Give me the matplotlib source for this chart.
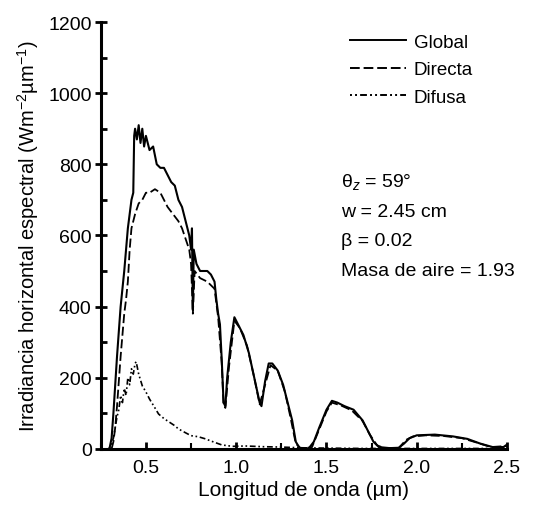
import matplotlib
matplotlib.use("Agg")
import matplotlib.pyplot as plt
from matplotlib.ticker import MultipleLocator, FixedLocator
from matplotlib.lines import Line2D

plt.rcParams['font.family'] = ['Liberation Sans', 'DejaVu Sans']
plt.rcParams['mathtext.fontset'] = 'custom'
plt.rcParams['mathtext.rm'] = 'Liberation Sans'
plt.rcParams['mathtext.it'] = 'Liberation Sans:italic'

# ---- data ----
global_wl = [0.295, 0.30, 0.31, 0.32, 0.33, 0.34, 0.35, 0.36, 0.37, 0.38, 0.39, 0.40, 0.41,
             0.42, 0.43, 0.435, 0.44, 0.45, 0.46, 0.47, 0.48, 0.49, 0.50, 0.52, 0.54, 0.56,
             0.58, 0.60, 0.62, 0.64, 0.66, 0.68, 0.70, 0.72, 0.74, 0.75, 0.755, 0.76, 0.765,
             0.78, 0.80, 0.82, 0.84, 0.86, 0.88, 0.89, 0.90, 0.91, 0.92, 0.93, 0.94, 0.95,
             0.97, 0.99, 1.01, 1.04, 1.07, 1.10, 1.13, 1.14, 1.16, 1.18, 1.20, 1.23, 1.26,
             1.29, 1.31, 1.33, 1.35, 1.40, 1.43, 1.46, 1.50, 1.53, 1.56, 1.60, 1.65, 1.70,
             1.73, 1.76, 1.79, 1.85, 1.90, 1.93, 1.96, 2.00, 2.10, 2.20, 2.28, 2.35, 2.42,
             2.48, 2.50]
global_val = [0, 5, 30, 100, 180, 260, 330, 400, 450, 500, 560, 620, 660,
              700, 720, 880, 900, 870, 910, 860, 900, 850, 880, 840, 850, 800,
              790, 790, 770, 750, 740, 700, 680, 640, 600, 560, 620, 390, 560,
              520, 500, 500, 500, 490, 470, 420, 380, 350, 250, 130, 120, 200,
              300, 370, 350, 320, 270, 200, 130, 120, 190, 240, 240, 220, 180,
              120, 80, 20, 3, 0, 20, 60, 110, 135, 130, 120, 110, 80,
              50, 20, 5, 2, 3, 15, 30, 38, 40, 35, 28, 15, 5,
              5, 12]

direct_wl = [0.31, 0.32, 0.33, 0.34, 0.35, 0.36, 0.37, 0.38, 0.39, 0.40, 0.41, 0.42, 0.43,
             0.44, 0.46, 0.48, 0.50, 0.52, 0.55, 0.58, 0.60, 0.62, 0.65, 0.68, 0.70, 0.72,
             0.74, 0.75, 0.76, 0.77, 0.80, 0.84, 0.88, 0.90, 0.92, 0.93, 0.94, 0.96, 0.99,
             1.02, 1.06, 1.10, 1.13, 1.16, 1.19, 1.23, 1.27, 1.30, 1.33, 1.36, 1.42, 1.46,
             1.50, 1.53, 1.58, 1.64, 1.70, 1.74, 1.78, 1.82, 1.90, 1.94, 1.98, 2.05, 2.15,
             2.25, 2.33, 2.41, 2.50]
direct_val = [0, 20, 60, 120, 190, 260, 320, 380, 420, 470, 560, 620, 640,
              660, 690, 700, 720, 720, 730, 720, 700, 680, 660, 640, 620, 590,
              560, 520, 380, 500, 480, 470, 450, 370, 240, 125, 115, 230, 360,
              340, 290, 200, 125, 180, 235, 220, 160, 90, 15, 0, 5, 55,
              105, 130, 122, 108, 78, 40, 10, 2, 2, 25, 35, 38, 36,
              30, 18, 5, 8]

diffuse_wl = [0.30, 0.32, 0.34, 0.35, 0.36, 0.37, 0.38, 0.39, 0.40, 0.41, 0.42, 0.43, 0.44,
              0.446, 0.46, 0.48, 0.50, 0.52, 0.55, 0.57, 0.60, 0.63, 0.66, 0.68, 0.72, 0.75,
              0.79, 0.83, 0.86, 0.92, 0.98, 1.05, 1.15, 1.25, 1.35, 1.50, 1.70, 2.00, 2.30,
              2.50]
diffuse_val = [0, 30, 90, 110, 150, 130, 170, 150, 200, 180, 225, 210, 240,
               245, 210, 177, 160, 140, 115, 98, 85, 75, 65, 56, 45, 37,
               34, 28, 22, 11, 7, 8, 6, 5, 3, 2, 1, 1, 1,
               1]

x_ticks = [0.5, 1.0, 1.5, 2.0, 2.5]
x_ticklabels = ['0.5', '1.0', '1.5', '2.0', '2.5']
y_ticks = [0, 200, 400, 600, 800, 1000, 1200]

legend_labels = ['Global', 'Directa', 'Difusa']
annotations = ['θ$_z$ = 59°', 'w = 2.45 cm', 'β = 0.02', 'Masa de aire = 1.93']

# ---- figure ----
fig = plt.figure(figsize=(5.36, 5.06), dpi=100)
ax = fig.add_axes([0.188, 0.111, 0.758, 0.8435])

styles = ['-', (0, (5, 2)), (0, (1, 1.6, 1, 1.6, 3.5, 1.6))]
ax.plot(global_wl, global_val, color='black', lw=1.5, linestyle=styles[0])
ax.plot(direct_wl, direct_val, color='black', lw=1.3, linestyle=styles[1])
ax.plot(diffuse_wl, diffuse_val, color='black', lw=1.2, linestyle=styles[2])

ax.set_xlim(0.25, 2.5)
ax.set_ylim(0, 1200)
ax.spines['top'].set_visible(False)
ax.spines['right'].set_visible(False)
ax.spines['left'].set_linewidth(2.2)
ax.spines['bottom'].set_linewidth(2.2)

ax.xaxis.set_major_locator(FixedLocator(x_ticks))
ax.set_xticklabels(x_ticklabels)
ax.xaxis.set_minor_locator(MultipleLocator(0.25))
ax.yaxis.set_major_locator(FixedLocator(y_ticks))
ax.yaxis.set_minor_locator(MultipleLocator(100))
ax.tick_params(axis='y', which='major', direction='inout', length=9, width=2, labelsize=14, pad=2)
ax.tick_params(axis='y', which='minor', direction='in', length=4, width=2)
ax.tick_params(axis='x', which='major', direction='in', length=5, width=2, labelsize=14, pad=7)
ax.tick_params(axis='x', which='minor', direction='in', length=4, width=1.5)

ax.set_xlabel('Longitud de onda (µm)', fontsize=15, labelpad=3)
ax.set_ylabel('Irradiancia horizontal espectral (Wm$^{-2}$µm$^{-1}$)', fontsize=14.5, labelpad=5)

# legend drawn as handles
handles = [Line2D([0], [0], color='black', lw=1.4, linestyle=s) for s in styles]
leg = ax.legend(handles, legend_labels, loc='upper left', bbox_to_anchor=(0.572, 1.012),
                frameon=False, fontsize=13.5, handlelength=3.0, handletextpad=0.4,
                labelspacing=0.55)

for i, t in enumerate(annotations):
    ax.text(0.591, 0.627 - i * 0.07, t, transform=ax.transAxes, fontsize=14,
            ha='left', va='center')

fig.savefig('out.png', dpi=100)
